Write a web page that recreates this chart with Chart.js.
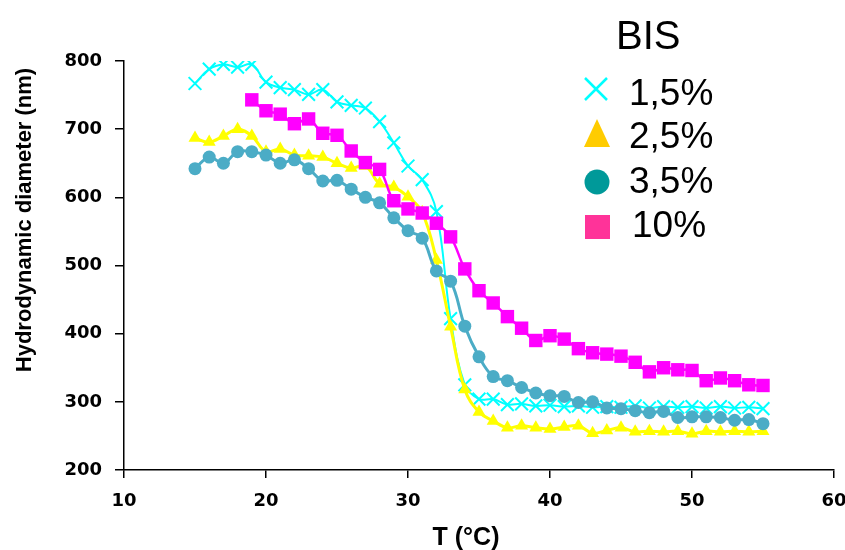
<!DOCTYPE html>
<html>
<head>
<meta charset="utf-8">
<script src="https://cdn.jsdelivr.net/npm/chart.js@4/dist/chart.umd.min.js"></script>
<style>
  html, body { margin: 0; padding: 0; background: #fff; }
  #wrap { width: 845px; height: 550px; position: relative; }
</style>
</head>
<body>
<div id="wrap"><canvas id="c" width="845" height="550"></canvas></div>
<script>
// ---- data ----
const temps = [15,16,17,18,19,20,21,22,23,24,25,26,27,28,29,30,31,32,33,34,35,36,37,38,39,40,41,42,43,44,45,46,47,48,49,50,51,52,53,54,55];
const bis15 = [767,788,795,791,795,769,761,758,751,758,740,735,731,711,680,646,626,579,422,325,304,304,296,297,294,295,293,294,292,293,292,294,291,293,292,293,291,293,291,292,290];
const bis25 = [687,681,690,700,690,667,671,662,661,659,650,643,646,620,615,601,578,508,410,318,285,272,262,265,262,260,263,265,254,258,262,256,257,256,257,253,257,256,257,256,257];
const bis35 = [642,659,650,667,667,662,650,655,642,624,625,612,600,592,570,551,540,492,477,411,366,337,331,321,313,309,308,299,300,291,290,287,284,286,277,278,278,277,273,274,268];
const bis10 = [null,null,null,null,743,727,722,708,715,694,691,668,651,641,595,583,577,562,542,495,463,445,425,408,390,397,392,378,372,370,367,358,344,350,347,346,331,335,331,325,324];
const seriesNames = ['1,5%','2,5%','3,5%','10%'];
const legendTitle = 'BIS';
const xTicks = [10,20,30,40,50,60];
const yTicks = [200,300,400,500,600,700,800];
const xTitle = 'T (°C)';
const yTitle = 'Hydrodynamic diameter (nm)';

const pts = arr => temps.map((t, i) => ({x: t, y: arr[i]}));

const legendPlugin = {
  id: 'customDecor',
  afterDraw(chart) {
    const ctx = chart.ctx;
    ctx.save();
    // axis titles
    ctx.fillStyle = '#000';
    ctx.font = 'bold 25px "Liberation Sans", Arial, sans-serif';
    ctx.textAlign = 'center';
    ctx.textBaseline = 'middle';
    ctx.fillText(xTitle, 466, 538);
    ctx.font = 'bold 22px "Liberation Sans", Arial, sans-serif';
    ctx.save();
    ctx.translate(25, 220);
    ctx.rotate(-Math.PI / 2);
    ctx.fillText(yTitle, 0, 0);
    ctx.restore();

    // legend
    ctx.textAlign = 'left';
    ctx.textBaseline = 'alphabetic';
    ctx.font = '40px "Liberation Sans", Arial, sans-serif';
    ctx.fillText(legendTitle, 616, 49);
    ctx.font = '37px "Liberation Sans", Arial, sans-serif';
    const rows = [105, 148, 193, 237];
    const cy = [89, 134, 182, 227];
    seriesNames.forEach((n, i) => ctx.fillText(n, i === 3 ? 632 : 629, rows[i]));

    // markers
    ctx.strokeStyle = '#00FFFF';
    ctx.lineWidth = 2.5;
    ctx.beginPath();
    ctx.moveTo(585, cy[0] - 11); ctx.lineTo(607, cy[0] + 11);
    ctx.moveTo(607, cy[0] - 11); ctx.lineTo(585, cy[0] + 11);
    ctx.stroke();
    ctx.fillStyle = '#FFCC00';
    ctx.beginPath();
    ctx.moveTo(597, 119); ctx.lineTo(610, 147); ctx.lineTo(584, 147); ctx.closePath();
    ctx.fill();
    ctx.fillStyle = '#009999';
    ctx.beginPath();
    ctx.arc(597, cy[2], 12.5, 0, Math.PI * 2);
    ctx.fill();
    ctx.fillStyle = '#FF3399';
    ctx.fillRect(585, 215, 25, 24);
    ctx.restore();
  }
};

const tickFont = {family: '"DejaVu Sans", sans-serif', size: 18, weight: 'bold'};

new Chart(document.getElementById('c'), {
  type: 'line',
  data: {
    datasets: [
      {label: seriesNames[0], data: pts(bis15), borderColor: '#00FFFF', backgroundColor: '#00FFFF',
       borderWidth: 2, pointStyle: 'crossRot', pointRadius: 9, pointBorderWidth: 2, tension: 0.4, order: 4},
      {label: seriesNames[1], data: pts(bis25), borderColor: '#FFFF00', backgroundColor: '#FFFF00',
       borderWidth: 3, pointStyle: 'triangle', pointRadius: 7.5, pointBorderWidth: 0, tension: 0.4, order: 3},
      {label: seriesNames[2], data: pts(bis35), borderColor: '#4BACC6', backgroundColor: '#4BACC6',
       borderWidth: 3, pointStyle: 'circle', pointRadius: 6.5, pointBorderWidth: 0, tension: 0.4, order: 2},
      {label: seriesNames[3], data: pts(bis10), borderColor: '#FF00FF', backgroundColor: '#FF00FF',
       borderWidth: 2.5, pointStyle: 'rect', pointRadius: 9.5, pointBorderWidth: 0, tension: 0.4, order: 1}
    ]
  },
  options: {
    responsive: false,
    devicePixelRatio: 1,
    animation: false,
    layout: {padding: {left: 0, right: 11, top: 61, bottom: 0}},
    plugins: {legend: {display: false}, tooltip: {enabled: false}},
    scales: {
      x: {
        type: 'linear', min: 10, max: 60,
        afterBuildTicks: s => { s.ticks = xTicks.map(v => ({value: v})); },
        afterFit: s => { s.height = 80; s.paddingRight = 0; s.paddingLeft = 0; },
        grid: {display: true, drawOnChartArea: false, drawTicks: true, tickLength: 8, color: '#000', lineWidth: 1.5},
        border: {display: true, color: '#000', width: 1.5},
        ticks: {color: '#000', font: tickFont, padding: 13, maxRotation: 0}
      },
      y: {
        type: 'linear', min: 200, max: 800,
        afterBuildTicks: s => { s.ticks = yTicks.map(v => ({value: v})); },
        afterFit: s => { s.width = 124; s.paddingTop = 0; s.paddingBottom = 0; },
        grid: {display: true, drawOnChartArea: false, drawTicks: true, tickLength: 9, color: '#000', lineWidth: 1.5},
        border: {display: true, color: '#000', width: 1.5},
        ticks: {color: '#000', font: tickFont, padding: 13}
      }
    }
  },
  plugins: [legendPlugin]
});
</script>
</body>
</html>
